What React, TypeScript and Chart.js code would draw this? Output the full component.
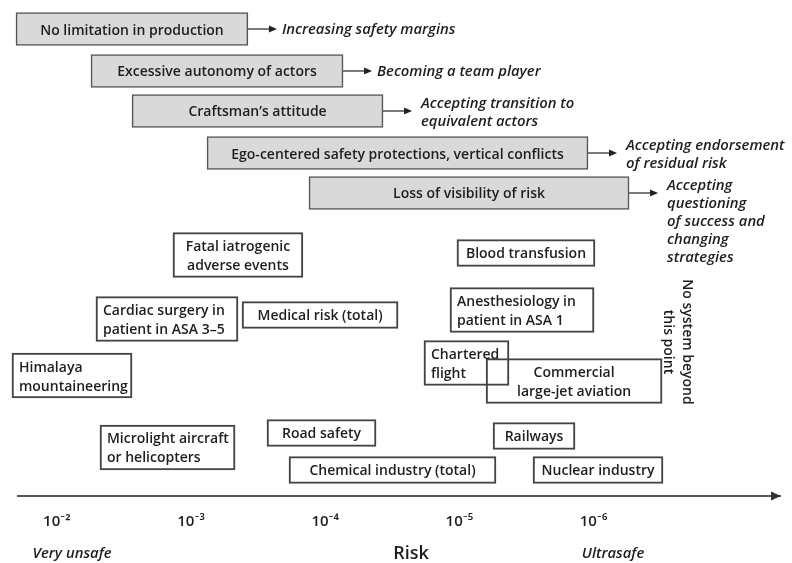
import React, { useEffect, useRef } from 'react';
import { Chart, registerables } from 'chart.js';

Chart.register(...registerables);

// Risk axis: exponent n of a risk of 10^-n per exposure
const TICK_EXPONENTS = [2, 3, 4, 5, 6];
const AXIS_MIN = 1.71;
const AXIS_MAX = 7.39;

// Barriers (grey boxes): risk range they limit, vertical level (0 = axis, 100 = top)
const BARRIER_LABELS = [
  'No limitation in production',
  'Excessive autonomy of actors',
  'Craftsman\u2019s attitude',
  'Ego-centered safety protections, vertical conflicts',
  'Loss of visibility of risk',
];
const BARRIER_FROM = [1.695, 2.254, 2.56, 3.119, 3.879];
const BARRIER_TO = [3.424, 4.133, 4.431, 5.959, 6.265];
const BARRIER_LEVEL = [94.15, 85.69, 77.62, 69.15, 61.09];
const BARRIER_OUTCOMES = [
  'Increasing safety margins',
  'Becoming a team player',
  'Accepting transition to\nequivalent actors',
  'Accepting endorsement\nof residual risk',
  'Accepting\nquestioning\nof success and\nchanging\nstrategies',
];

// Systems (white boxes): risk range, vertical level
const SYSTEM_LABELS = [
  'Fatal iatrogenic\nadverse events',
  'Cardiac surgery in\npatient in ASA 3\u20135',
  'Medical risk (total)',
  'Himalaya\nmountaineering',
  'Microlight aircraft\nor helicopters',
  'Road safety',
  'Chemical industry (total)',
  'Blood transfusion',
  'Anesthesiology in\npatient in ASA 1',
  'Chartered\nflight',
  'Commercial\nlarge-jet aviation',
  'Railways',
  'Nuclear industry',
];
const SYSTEM_FROM = [2.865, 2.291, 3.38, 1.665, 2.321, 3.566, 3.73, 4.982, 4.93, 4.736, 5.199, 5.251, 5.549];
const SYSTEM_TO = [3.834, 3.35, 4.543, 2.56, 3.328, 4.379, 5.273, 6.011, 6.004, 5.37, 6.511, 5.862, 6.518];
const SYSTEM_LEVEL = [48.59, 35.69, 36.49, 24.29, 9.78, 12.7, 5.24, 48.99, 37.5, 26.81, 23.19, 12.1, 5.24];

const NOTE_TEXT = 'No system beyond\nthis point';
const NOTE_X = 6.629;
const NOTE_LEVEL = 31.05;

const CAPTIONS = ['Very unsafe', 'Risk', 'Ultrasafe'];
const CAPTION_X = [2.113, 4.639, 6.145];

// ---- styles ----
const FONT = '"Open Sans", Lato, "DejaVu Sans", sans-serif';
const TEXT = '#1e1e1e';
const LABEL_FONT = `600 14px ${FONT}`;
const ITALIC_FONT = `italic 600 14.8px ${FONT}`;
const LEFT_ALIGNED = new Set([
  'Cardiac surgery in\npatient in ASA 3\u20135',
  'Himalaya\nmountaineering',
  'Microlight aircraft\nor helicopters',
  'Anesthesiology in\npatient in ASA 1',
  'Chartered\nflight',
]);

const SUP: Record<string, string> = {
  '0': '\u2070', '1': '\u00b9', '2': '\u00b2', '3': '\u00b3', '4': '\u2074',
  '5': '\u2075', '6': '\u2076', '7': '\u2077', '8': '\u2078', '9': '\u2079',
};
const riskLabel = (n: number) =>
  '10\u207b' + String(n).split('').map((c) => SUP[c] || c).join('');

function drawLines(ctx: CanvasRenderingContext2D, text: string, x: number, yFirst: number, lineH: number) {
  text.split('\n').forEach((line, i) => ctx.fillText(line, x, yFirst + i * lineH));
}

const diagramPlugin = {
  id: 'diagram',
  afterDatasetsDraw(chart: any) {
    const ctx: CanvasRenderingContext2D = chart.ctx;
    const xs = chart.scales.x;
    const ys = chart.scales.y;
    ctx.save();
    ctx.fillStyle = TEXT;
    ctx.textBaseline = 'middle';

    chart.data.datasets.forEach((ds: any, di: number) => {
      const meta = chart.getDatasetMeta(di);
      meta.data.forEach((el: any, i: number) => {
        const label: string = ds.labels[i];
        const left = Math.min(el.x, el.base);
        const right = Math.max(el.x, el.base);
        const cy = el.y;
        const lines = label.split('\n');
        const lh = 19;
        const y0 = cy + 1.5 - ((lines.length - 1) * lh) / 2;
        ctx.font = LABEL_FONT;
        ctx.fillStyle = TEXT;
        if (LEFT_ALIGNED.has(label)) {
          ctx.textAlign = 'left';
          drawLines(ctx, label, left + 7, y0, lh);
        } else {
          ctx.textAlign = 'center';
          drawLines(ctx, label, (left + right) / 2, y0, lh);
        }
        if (ds.outcomes) {
          // arrow
          const ax0 = right;
          const ax1 = right + 29;
          ctx.strokeStyle = '#333';
          ctx.lineWidth = 1.3;
          ctx.beginPath();
          ctx.moveTo(ax0, cy);
          ctx.lineTo(ax1 - 6, cy);
          ctx.stroke();
          ctx.beginPath();
          ctx.moveTo(ax1, cy);
          ctx.lineTo(ax1 - 8, cy - 3.5);
          ctx.lineTo(ax1 - 8, cy + 3.5);
          ctx.closePath();
          ctx.fillStyle = '#222';
          ctx.fill();
          const out: string = ds.outcomes[i];
          const olines = out.split('\n');
          ctx.font = ITALIC_FONT;
          ctx.fillStyle = TEXT;
          ctx.textAlign = 'left';
          const oy = olines.length === 1 ? cy + 1 : cy - 7.5;
          drawLines(ctx, out, right + (olines.length === 1 ? 34 : 38), oy, 18);
        }
      });
    });

    // rotated note
    ctx.save();
    ctx.translate(xs.getPixelForValue(NOTE_X), ys.getPixelForValue(NOTE_LEVEL));
    ctx.rotate(Math.PI / 2);
    ctx.font = LABEL_FONT;
    ctx.textAlign = 'center';
    ctx.fillStyle = TEXT;
    drawLines(ctx, NOTE_TEXT, 0, -9.5, 19);
    ctx.restore();

    // captions under the axis
    CAPTIONS.forEach((c, i) => {
      const big = c === 'Risk';
      ctx.font = big ? `600 18px ${FONT}` : ITALIC_FONT;
      ctx.textAlign = 'center';
      ctx.fillStyle = TEXT;
      ctx.fillText(c, xs.getPixelForValue(CAPTION_X[i]), xs.top + 58);
    });

    // arrow head of the risk axis
    const tipX = xs.right;
    const axY = xs.top;
    ctx.beginPath();
    ctx.moveTo(tipX + 1, axY);
    ctx.lineTo(tipX - 9, axY - 4.5);
    ctx.lineTo(tipX - 9, axY + 4.5);
    ctx.closePath();
    ctx.fillStyle = '#333';
    ctx.fill();
    ctx.restore();
  },
};

export default function App() {
  const ref = useRef<HTMLCanvasElement>(null);

  useEffect(() => {
    if (!ref.current) return;
    const toBar = (from: number[], to: number[], level: number[], idx: number[]) =>
      idx.map((i) => ({ x: [from[i], to[i]], y: level[i] }));

    const sysIdx = SYSTEM_LABELS.map((_, i) => i);
    const oneLine = sysIdx.filter((i) => !SYSTEM_LABELS[i].includes('\n'));
    const twoLine = sysIdx.filter((i) => SYSTEM_LABELS[i].includes('\n'));

    const chart = new Chart(ref.current, {
      type: 'bar',
      data: {
        datasets: [
          {
            data: toBar(BARRIER_FROM, BARRIER_TO, BARRIER_LEVEL, BARRIER_LABELS.map((_, i) => i)),
            labels: BARRIER_LABELS,
            outcomes: BARRIER_OUTCOMES,
            backgroundColor: '#d9d9d9',
            borderColor: '#555',
            borderWidth: 1.6,
            borderSkipped: false,
            barThickness: 33,
            grouped: false,
            clip: false,
          } as any,
          {
            data: toBar(SYSTEM_FROM, SYSTEM_TO, SYSTEM_LEVEL, oneLine),
            labels: oneLine.map((i) => SYSTEM_LABELS[i]),
            backgroundColor: 'rgba(255,255,255,0)',
            borderColor: '#444',
            borderWidth: 1.4,
            borderSkipped: false,
            barThickness: 27,
            grouped: false,
            clip: false,
          } as any,
          {
            data: toBar(SYSTEM_FROM, SYSTEM_TO, SYSTEM_LEVEL, twoLine),
            labels: twoLine.map((i) => SYSTEM_LABELS[i]),
            backgroundColor: 'rgba(255,255,255,0)',
            borderColor: '#444',
            borderWidth: 1.4,
            borderSkipped: false,
            barThickness: 45,
            grouped: false,
            clip: false,
          } as any,
        ],
      },
      options: {
        indexAxis: 'y',
        responsive: false,
        animation: false,
        events: [],
        layout: { padding: { left: 18, right: 12, top: 0, bottom: 0 } },
        plugins: { legend: { display: false }, tooltip: { enabled: false } },
        scales: {
          x: {
            type: 'linear',
            position: 'bottom',
            min: AXIS_MIN,
            max: AXIS_MAX,
            offset: false,
            grid: { display: false, drawTicks: false },
            border: { display: true, color: '#555', width: 2 },
            afterBuildTicks: (scale: any) => {
              scale.ticks = TICK_EXPONENTS.map((v) => ({ value: v }));
            },
            afterFit: (scale: any) => {
              scale.height = 67;
            },
            ticks: {
              padding: 17,
              maxRotation: 0,
              autoSkip: false,
              color: TEXT,
              font: { family: FONT, size: 15, weight: '600' },
              callback: (v: any) => riskLabel(Number(v)),
            },
          },
          y: {
            type: 'linear',
            display: false,
            min: 0,
            max: 100,
            offset: false,
          },
        },
      } as any,
      plugins: [diagramPlugin],
    });
    return () => chart.destroy();
  }, []);

  return (
    <div style={{ position: 'absolute', left: 0, top: 0, width: 792, height: 563, background: '#fff' }}>
      <canvas ref={ref} width={792} height={563} style={{ display: 'block' }} />
    </div>
  );
}
